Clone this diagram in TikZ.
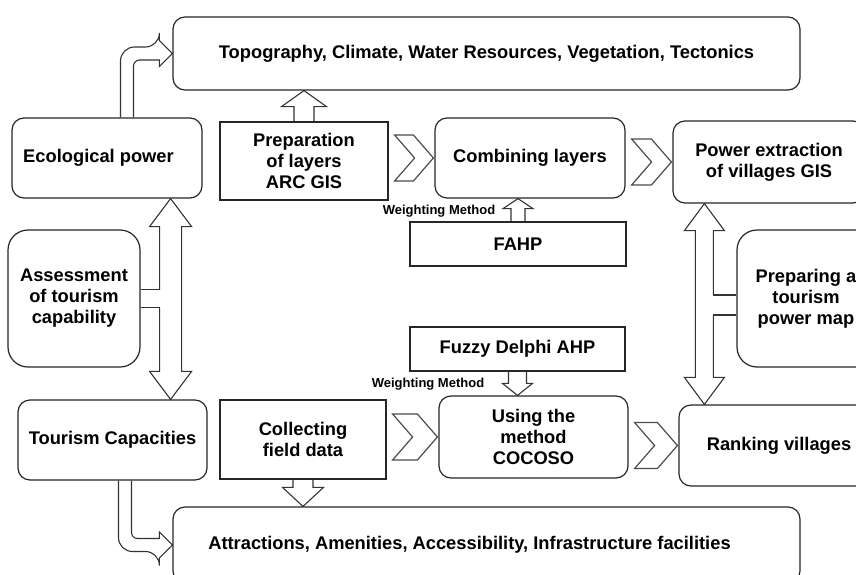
\documentclass[tikz,border=0pt]{standalone}
\usepackage{fontspec}
\setmainfont{Liberation Sans}
\usetikzlibrary{calc,backgrounds}
\tikzset{roundbox/.style={draw=black!85,line width=1.2pt,fill=white,rounded corners=12pt,align=center,inner sep=2pt,font=\fontsize{18.3}{21}\selectfont\bfseries},
    bigroundbox/.style={roundbox,rounded corners=20pt},
    squarebox/.style={draw=black!85,line width=1.2pt,fill=white,align=center,inner sep=2pt,font=\fontsize{18.3}{21}\selectfont\bfseries},
    smalllabel/.style={font=\fontsize{13}{14}\selectfont\bfseries,inner sep=0},
    blockline/.style={draw=black!80,line width=1.1pt,fill=white,line join=miter},
    chevy/.style={draw=black!70,line width=1.2pt,fill=white,line join=miter}
}
\newcommand{\blockarrow}[5]
{
% args: (start on box edge, tip on box edge, shaft half width, head half width, head length)
    \draw [blockline] let \p1=#1, \p2=#2, \n1={sign(\y2-\y1)} in
        (\x1-#3,\y1) -- ({\x1-#3},{\y2-(\n1)*#5}) -- ({\x1-#4},{\y2-(\n1)*#5}) -- (\x1,\y2)
        -- ({\x1+#4},{\y2-(\n1)*#5}) -- ({\x1+#3},{\y2-(\n1)*#5}) -- (\x1+#3,\y1);
}
\newcommand{\bentarrow}[2]
{
% args: (start on box edge, tip on box edge)
    \draw [blockline] let \p1=#1, \p2=#2, \n1={sign(\y2-\y1)} in
        (\x1-6.5pt,\y1) [rounded corners=14pt] -- ({\x1-6.5pt},{\y2+(\n1)*6.5pt}) -- ({\x2-13pt},{\y2+(\n1)*6.5pt})
        [sharp corners] -- ({\x2-13pt},{\y2+(\n1)*13pt}) -- (\x2,\y2) -- ({\x2-13pt},{\y2-(\n1)*13pt}) -- ({\x2-13pt},{\y2-(\n1)*6.5pt})
        [rounded corners=6pt] -- ({\x1+6.5pt},{\y2-(\n1)*6.5pt}) -- (\x1+6.5pt,\y1);
}
\newcommand{\dblarrow}[7]
{
% args: (top tip, bottom tip, side box point, shaft half, head half, head length, branch half)
    \draw [blockline] let \p1=#1, \p2=#2 in
        (\x1,\y1) -- (\x1+#5,\y1-#6) -- (\x1+#4,\y1-#6) -- (\x1+#4,\y2+#6) -- (\x1+#5,\y2+#6)
        -- (\x1,\y2) -- (\x1-#5,\y2+#6) -- (\x1-#4,\y2+#6) -- (\x1-#4,\y1-#6) -- (\x1-#5,\y1-#6) -- cycle;
    \fill [white] let \p1=#1, \p3=#3 in (\x3,\y3-#7) rectangle (\x1,\y3+#7);
    \draw [blockline] let \p1=#1, \p3=#3, \n1={sign(\x3-\x1)} in
        (\x3,\y3+#7) -- ({\x1+(\n1)*#4},\y3+#7) (\x3,\y3-#7) -- ({\x1+(\n1)*#4},\y3-#7);
}
\newcommand{\chevronarrow}[2]
{
% args: (box on the left, box on the right)
    \draw [chevy] let \p1=(#1.east), \p2=(#2.west) in
        (\x1+6pt,\y2+23pt) -- (\x2-21pt,\y2+23pt) -- (\x2-1pt,\y2) -- (\x2-21pt,\y2-23pt)
        -- (\x1+6pt,\y2-23pt) -- (\x1+26pt,\y2) -- cycle;
}
\begin{document}
\begin{tikzpicture}[x=1pt,y=-1pt]

\useasboundingbox (0,0) rectangle (856,575);
\clip (0,0) rectangle (856,575);

% boxes, left column
\node (topo) at (486.5,53.5) [roundbox,minimum width=627pt,minimum height=73pt] {Topography, Climate, Water Resources, Vegetation, Tectonics};
\node (ecol) at (107,158) [roundbox,minimum width=190pt,minimum height=80pt] {Ecological power\hspace*{17pt}};
\node (assess) at (74,298.5) [bigroundbox,minimum width=132pt,minimum height=137pt] {Assessment\\of tourism\\capability};
\node (tourcap) at (112.5,440) [roundbox,minimum width=189pt,minimum height=80pt] {Tourism Capacities};
\node (attr) at (486.5,545) [roundbox,minimum width=627pt,minimum height=76pt] {Attractions, Amenities, Accessibility, Infrastructure facilities\hspace*{34pt}};

% process boxes
\node (prep) at (304,161) [squarebox,minimum width=168pt,minimum height=78pt] {Preparation\\of layers\\ARC GIS};
\node (comb) at (530,158) [roundbox,minimum width=190pt,minimum height=80pt] {Combining layers};
\node (power) at (769,162) [roundbox,minimum width=192pt,minimum height=82pt] {Power extraction\\of villages GIS};
\node (fahp) at (518,244) [squarebox,minimum width=216pt,minimum height=44pt] {FAHP};
\node (prepmap) at (806,298.5) [bigroundbox,minimum width=138pt,minimum height=137pt] {Preparing a\\tourism\\power map};
\node (fuzzy) at (517.5,349) [squarebox,minimum width=215pt,minimum height=44pt] {Fuzzy Delphi AHP};
\node (collect) at (303,439.5) [squarebox,minimum width=166pt,minimum height=79pt] {Collecting\\field data};
\node (coco) at (533.5,437) [roundbox,minimum width=189pt,minimum height=82pt] {Using the\\method\\COCOSO};
\node (rank) at (779,445.5) [roundbox,minimum width=200pt,minimum height=81pt] {Ranking villages};

\node (wm1) at (439,211) [smalllabel] {Weighting Method};
\node (wm2) at (428,384) [smalllabel] {Weighting Method};

% arrows behind the boxes
\begin{scope}[on background layer]
\bentarrow{([xshift=20pt]ecol.north)}{(topo.west)}
\bentarrow{([xshift=12.5pt]tourcap.south)}{(attr.west)}

\blockarrow{(prep.north)}{(prep.north |- topo.south)}{10pt}{22.5pt}{16pt}
\blockarrow{(fahp.north)}{(fahp.north |- comb.south)}{7pt}{15pt}{10pt}
\blockarrow{(fuzzy.south)}{(fuzzy.south |- coco.north)}{9pt}{15pt}{12pt}
\blockarrow{(collect.south)}{(collect.south |- attr.north)}{10pt}{20.5pt}{19pt}

\dblarrow{([xshift=30pt]assess.east |- ecol.south)}{([xshift=30pt]assess.east |- tourcap.north)}{(assess.east)}{11pt}{21pt}{28pt}{9pt}
\dblarrow{([xshift=-32pt]prepmap.west |- power.south)}{([xshift=-32pt]prepmap.west |- rank.north)}{([yshift=-6.5pt]prepmap.west)}{9pt}{20pt}{27pt}{10pt}

\chevronarrow{prep}{comb}
\chevronarrow{comb}{power}
\chevronarrow{collect}{coco}
\chevronarrow{coco}{rank}
\end{scope}

\end{tikzpicture}
\end{document}
